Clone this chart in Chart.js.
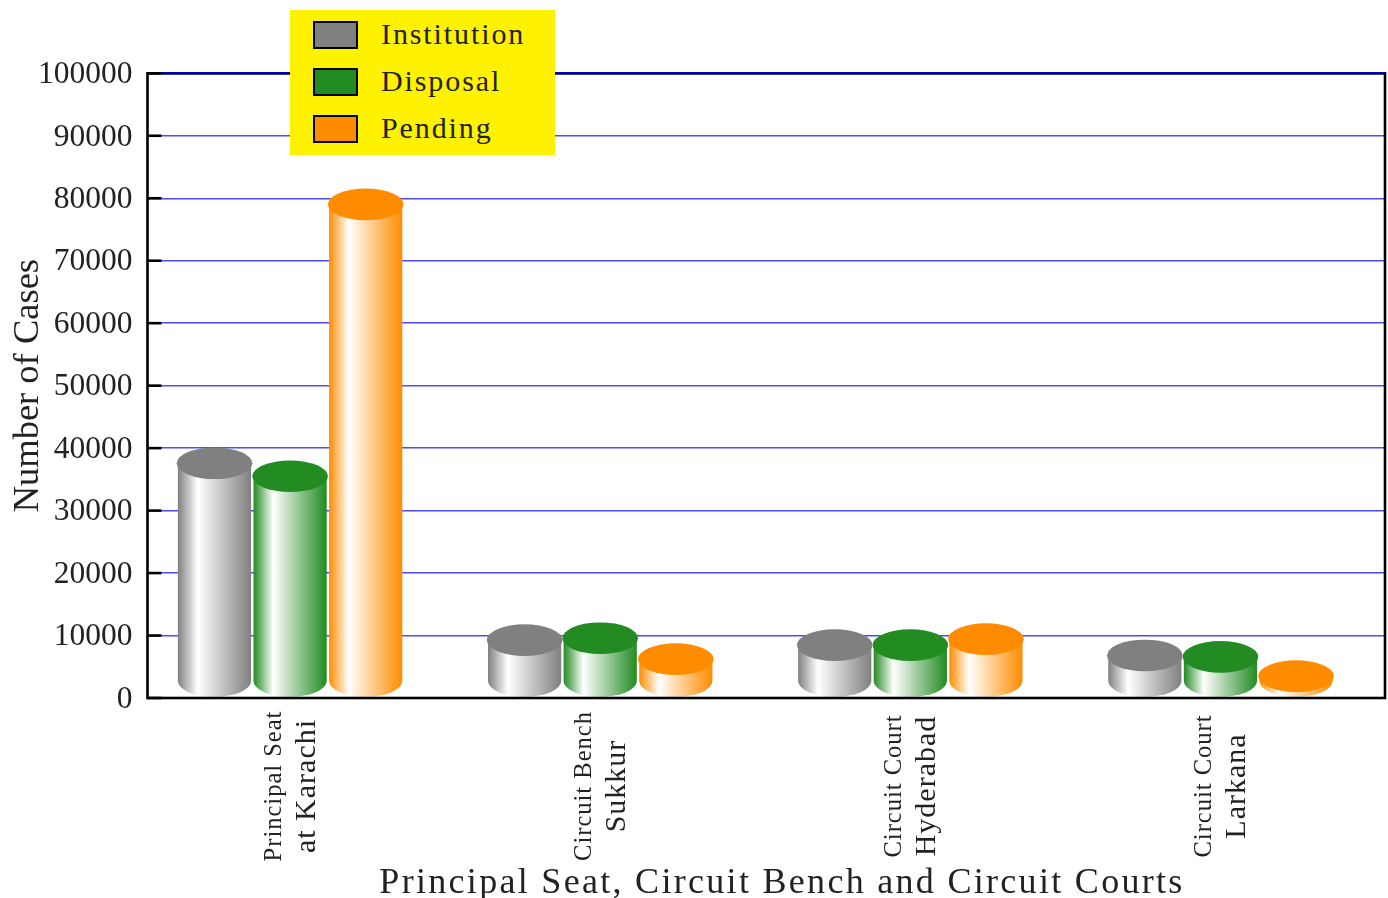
<!DOCTYPE html>
<html>
<head>
<meta charset="utf-8">
<title>Cases</title>
<script src="https://cdn.jsdelivr.net/npm/chart.js@4"></script>
<style>
    body { margin: 0; background: #fff; }
    #wrap { position: relative; width: 1388px; height: 898px; overflow: hidden; }
    #legend {
        position: absolute; left: 290px; top: 10px; width: 265px; height: 145px;
        background: #fff200; font: 30px "Liberation Serif", serif; color: #222; letter-spacing: 1.9px;
    }
    #legend .row { position: absolute; left: 23px; height: 28px; line-height: 28px; white-space: nowrap; }
    #legend .box { display: inline-block; width: 41px; height: 24px; border: 2px solid #000; vertical-align: top; margin-top: 1px; margin-right: 23px; }
</style>
</head>
<body>
<div id="wrap">
    <canvas id="casesChart" width="1388" height="898"></canvas>
    <div id="legend"></div>
</div>
<script>
// Data
const categories = [
    ['Principal Seat', 'at Karachi'],
    ['Circuit Bench', 'Sukkur'],
    ['Circuit Court', 'Hyderabad'],
    ['Circuit Court', 'Larkana']
];
const seriesNames = ['Institution', 'Disposal', 'Pending'];
const seriesColors = ['#808080', '#228b22', '#ff8c00'];
const institution = [40100, 11800, 11000, 9340];
const disposal = [38030, 12100, 11000, 9120];
const pending = [81550, 8750, 11950, 6030];
const seriesValues = [institution, disposal, pending];

const fontName = '"Liberation Serif", serif';
const inkColor = '#222';

// legend box on top of the plot
const legendEl = document.getElementById('legend');
seriesNames.forEach(function (name, i) {
    const row = document.createElement('div');
    row.className = 'row';
    row.style.top = (9.5 + i * 47.3) + 'px';
    row.innerHTML = '<span class="box" style="background:' + seriesColors[i] + '"></span>' + name;
    legendEl.appendChild(row);
});

// bars are painted as cylinders, using the geometry chart.js worked out
const cylinderBars = {
    id: 'cylinderBars',
    beforeDatasetDraw(chart, args) {
        const ctx = chart.ctx;
        const color = seriesColors[args.index];
        const ry = 15.8;
        args.meta.data.forEach(function (bar) {
            const rx = bar.width / 2;
            const bodyRx = rx - 1.2;
            const topY = bar.y + ry;
            const bottomY = bar.base - ry - 0.5;
            const grad = ctx.createLinearGradient(bar.x - bodyRx, 0, bar.x + bodyRx, 0);
            grad.addColorStop(0, color);
            grad.addColorStop(0.27, '#ffffff');
            grad.addColorStop(1, color);
            ctx.save();
            ctx.fillStyle = grad;
            ctx.beginPath();
            ctx.moveTo(bar.x - bodyRx, topY);
            ctx.lineTo(bar.x - bodyRx, bottomY);
            ctx.ellipse(bar.x, bottomY, bodyRx, ry, 0, Math.PI, 0, true);
            ctx.lineTo(bar.x + bodyRx, topY);
            ctx.closePath();
            ctx.fill();
            ctx.fillStyle = color;
            ctx.beginPath();
            ctx.ellipse(bar.x, topY, rx, ry, 0, 0, Math.PI * 2);
            ctx.fill();
            ctx.restore();
        });
        return false;
    }
};

// frame, inner tick marks, and the two size category labels
const frameAndLabels = {
    id: 'frameAndLabels',
    afterDraw(chart) {
        const ctx = chart.ctx;
        const area = chart.chartArea;
        const xScale = chart.scales.x;
        const yScale = chart.scales.y;
        ctx.save();

        ctx.strokeStyle = '#000';
        ctx.lineWidth = 2.6;
        yScale.ticks.forEach(function (t) {
            const y = yScale.getPixelForValue(t.value);
            ctx.beginPath();
            ctx.moveTo(area.left, y);
            ctx.lineTo(area.left + 14, y);
            ctx.stroke();
        });
        ctx.strokeRect(area.left, area.top, area.right - area.left, area.bottom - area.top);
        ctx.strokeStyle = '#0000cc';
        ctx.lineWidth = 1.2;
        ctx.beginPath();
        ctx.moveTo(area.left + 14, area.top - 0.8);
        ctx.lineTo(area.right, area.top - 0.8);
        ctx.stroke();

        ctx.fillStyle = inkColor;
        ctx.letterSpacing = '1px';
        ctx.textBaseline = 'middle';
        ctx.textAlign = 'center';
        categories.forEach(function (lines, i) {
            const x = xScale.getPixelForValue(i + 1);
            [[lines[0], 24.5, -16], [lines[1], 30, 17]].forEach(function (part) {
                ctx.save();
                ctx.translate(x + part[2], 786);
                ctx.rotate(-Math.PI / 2);
                ctx.font = part[1] + 'px ' + fontName;
                ctx.fillText(part[0], 0, 0);
                ctx.restore();
            });
        });

        ctx.letterSpacing = '2.3px';
        ctx.font = '36px ' + fontName;
        ctx.fillText('Principal Seat, Circuit Bench and Circuit Courts', 782, 884);
        ctx.restore();
    }
};

const casesCtx = document.getElementById('casesChart').getContext('2d');
const casesChart = new Chart(casesCtx, {
    type: 'bar',
    data: {
        datasets: seriesNames.map(function (name, s) {
            return {
                label: name,
                data: seriesValues[s].map(function (v, i) { return { x: i + 1, y: v }; }),
                backgroundColor: seriesColors[s],
                barThickness: 75.6
            };
        })
    },
    options: {
        responsive: false,
        animation: false,
        layout: { padding: { top: 73.3, right: 3 } },
        plugins: {
            legend: { display: false },
            tooltip: { enabled: false }
        },
        scales: {
            x: {
                type: 'linear',
                offset: false,
                min: 0.5402,
                max: 4.5306,
                grid: { display: false, drawTicks: false },
                border: { display: false },
                ticks: { display: false, stepSize: 1 },
                afterFit(scale) { scale.height = 200; }
            },
            y: {
                min: 0,
                max: 100000,
                grid: { color: '#4a4aff', lineWidth: 1.4, drawTicks: false },
                border: { display: false },
                ticks: {
                    stepSize: 10000,
                    padding: 15,
                    labelOffset: 1.5,
                    color: inkColor,
                    font: { family: fontName, size: 31.5 },
                    callback: function (v) { return String(v); }
                },
                title: {
                    display: true,
                    text: 'Number of Cases',
                    color: inkColor,
                    font: { family: fontName, size: 36.5 },
                    padding: { top: 7, bottom: 0 }
                },
                afterFit(scale) { scale.width = 147.5; }
            }
        }
    },
    plugins: [cylinderBars, frameAndLabels]
});
</script>
</body>
</html>
